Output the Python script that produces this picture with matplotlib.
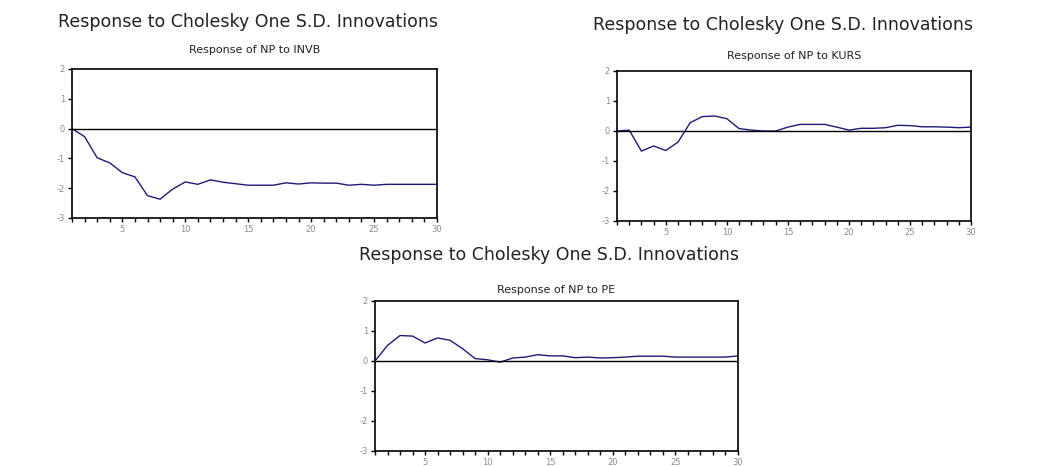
import matplotlib
matplotlib.use('Agg')
import matplotlib.pyplot as plt
import numpy as np

# ── data ────────────────────────────────────────────────────────────────────
periods = list(range(1, 31))

np_to_invb = [0.0, -0.27, -0.98, -1.15, -1.48, -1.62, -2.25, -2.37, -2.03, -1.79,
              -1.87, -1.72, -1.80, -1.85, -1.90, -1.90, -1.90, -1.82, -1.86, -1.82,
              -1.83, -1.83, -1.90, -1.87, -1.90, -1.87, -1.87, -1.87, -1.87, -1.87]

np_to_kurs = [0.0, 0.03, -0.67, -0.50, -0.65, -0.37, 0.28, 0.48, 0.50, 0.41,
              0.08, 0.03, 0.0, 0.0, 0.13, 0.22, 0.22, 0.22, 0.13, 0.03,
              0.09, 0.09, 0.11, 0.19, 0.18, 0.14, 0.14, 0.13, 0.11, 0.13]

np_to_pe = [0.0, 0.52, 0.85, 0.83, 0.60, 0.77, 0.69, 0.41, 0.08, 0.04,
            -0.04, 0.10, 0.13, 0.21, 0.17, 0.17, 0.11, 0.13, 0.10, 0.11,
            0.13, 0.16, 0.16, 0.16, 0.13, 0.13, 0.13, 0.13, 0.13, 0.17]

main_title = 'Response to Cholesky One S.D. Innovations'
sub_titles = ['Response of NP to INVB', 'Response of NP to KURS', 'Response of NP to PE']
series = [np_to_invb, np_to_kurs, np_to_pe]
y_ticks = [-3, -2, -1, 0, 1, 2]
x_ticks = [5, 10, 15, 20, 25, 30]

W, H = 1038, 466
plt.rcParams['font.family'] = ['DejaVu Sans']

fig = plt.figure(figsize=(W / 100, H / 100), dpi=100)
fig.patch.set_facecolor('white')

# panel boxes in pixels: left, right, top, bottom
boxes = [(72, 437, 69, 218), (617, 971, 71, 221), (375, 738, 301, 451)]
# title centre (x, y) and subtitle y in pixels
title_pos = [(248, 22), (783, 25), (549, 255)]
sub_y = [50, 56, 290]

for box, tpos, sy, sub, vals in zip(boxes, title_pos, sub_y, sub_titles, series):
    l, r, t, b = box
    ax = fig.add_axes([l / W, 1 - b / H, (r - l) / W, (b - t) / H])
    ax.plot(periods, vals, color='#1c1c78', lw=1.0)
    ax.axhline(0, color='black', lw=1.0)
    ax.set_xlim(1, 30)
    ax.set_ylim(-3, 2)
    ax.set_yticks(y_ticks)
    ax.set_yticklabels([str(v) for v in y_ticks])
    ax.set_xticks(x_ticks)
    ax.set_xticks(periods, minor=True)
    ax.tick_params(axis='both', which='both', direction='out', length=3,
                   width=1, colors='black', labelcolor='#8a8a8a', labelsize=6, pad=2)
    for s in ax.spines.values():
        s.set_linewidth(1.2)
        s.set_color('black')
    fig.text(tpos[0] / W, 1 - tpos[1] / H, main_title, ha='center', va='center',
             fontsize=12.5, color='#222222')
    fig.text((l + r) / 2 / W, 1 - sy / H, sub, ha='center', va='center',
             fontsize=8, color='#222222')

fig.savefig('out.png', dpi=100)
